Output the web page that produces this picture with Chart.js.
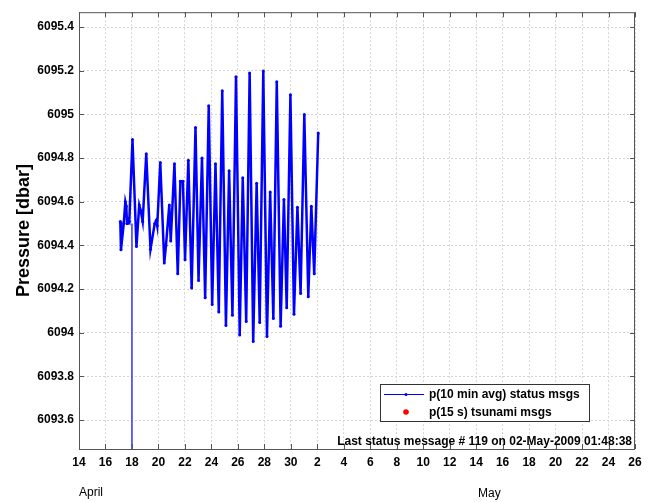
<!DOCTYPE html>
<html>
<head>
<meta charset="utf-8">
<script src="https://cdn.jsdelivr.net/npm/chart.js@4.4.0/dist/chart.umd.min.js"></script>
<style>
    body { margin: 0; background: #fff; }
</style>
</head>
<body>
<canvas id="myChart" width="651" height="502"></canvas>
<script>
// days counted from April 0 (so 32 = May 2)
const days = [17.12, 17.17, 17.38, 17.50, 17.57, 17.63, 17.70, 17.80,
    18.04, 18.34, 18.55, 18.66, 18.81, 19.08, 19.40, 19.72, 19.84, 19.91,
    20.14, 20.44, 20.57, 20.82, 20.93, 21.21, 21.46, 21.66, 21.85,
    22.01, 22.26, 22.51, 22.80, 23.03, 23.29, 23.53, 23.80,
    24.06, 24.31, 24.56, 24.82, 25.10, 25.34, 25.59, 25.86,
    26.14, 26.37, 26.63, 26.89, 27.16, 27.42, 27.65, 27.92,
    28.20, 28.44, 28.68, 28.94, 29.23, 29.48, 29.69, 29.97,
    30.24, 30.50, 30.74, 31.02, 31.32, 31.55, 31.77, 32.07];
const pressure = [6094.51, 6094.38, 6094.50, 6094.60, 6094.58, 6094.50, 6094.52, 6094.51,
    6094.885, 6094.395, 6094.585, 6094.56, 6094.51, 6094.82, 6094.383, 6094.50, 6094.515, 6094.49,
    6094.78, 6094.32, 6094.40, 6094.585, 6094.42, 6094.774, 6094.27, 6094.694, 6094.694,
    6094.335, 6094.79, 6094.205, 6094.94, 6094.24, 6094.80, 6094.16, 6095.04,
    6094.13, 6094.774, 6094.095, 6095.108, 6094.034, 6094.742, 6094.08, 6095.173,
    6093.99, 6094.71, 6094.052, 6095.19, 6093.96, 6094.685, 6094.047, 6095.199,
    6093.983, 6094.645, 6094.065, 6095.15, 6094.03, 6094.61, 6094.115, 6095.09,
    6094.085, 6094.575, 6094.18, 6095.00, 6094.165, 6094.58, 6094.27, 6094.915];

// bad reading on April 18 that drops off the bottom of the axes
const spikeDays = [18.0, 18.0];
const spikeValues = [6094.5, 6093.0];

// no tsunami messages in this period
const tsunamiDays = [];
const tsunamiValues = [];

const xTicks = [14, 16, 18, 20, 22, 24, 26, 28, 30, 32, 34, 36, 38, 40, 42, 44, 46, 48, 50, 52, 54, 56];
const xTickLabels = ['14', '16', '18', '20', '22', '24', '26', '28', '30', '2', '4', '6', '8', '10',
    '12', '14', '16', '18', '20', '22', '24', '26'];
const yTicks = [6093.6, 6093.8, 6094, 6094.2, 6094.4, 6094.6, 6094.8, 6095, 6095.2, 6095.4];
const yTickLabels = ['6093.6', '6093.8', '6094', '6094.2', '6094.4', '6094.6', '6094.8', '6095', '6095.2', '6095.4'];

const statusText = 'Last status message # 119 on 02-May-2009 01:48:38';
const yTitle = 'Pressure [dbar]';

const FONT = '"Liberation Sans", Arial, Helvetica, sans-serif';
Chart.defaults.font.family = FONT;

function toPoints(xs, ys) {
    return xs.map(function (v, i) { return { x: v, y: ys[i] }; });
}

const frame = {
    id: 'frame',
    beforeDraw: function (chart) {
        const ctx = chart.ctx;
        ctx.save();
        ctx.fillStyle = '#fff';
        ctx.fillRect(0, 0, chart.width, chart.height);
        ctx.restore();
    },
    afterDraw: function (chart) {
        const ctx = chart.ctx;
        const a = chart.chartArea;
        const xs = chart.scales.x;
        const ys = chart.scales.y;
        ctx.save();

        // axes box with inward ticks
        ctx.strokeStyle = '#555';
        ctx.lineWidth = 1;
        ctx.strokeRect(a.left + 0.5, a.top + 0.5, a.right - a.left - 1, a.bottom - a.top);
        ctx.beginPath();
        xTicks.forEach(function (v) {
            const px = Math.round(xs.getPixelForValue(v)) + 0.5;
            ctx.moveTo(px, a.bottom); ctx.lineTo(px, a.bottom - 5);
            ctx.moveTo(px, a.top); ctx.lineTo(px, a.top + 5);
        });
        yTicks.forEach(function (v) {
            const py = Math.round(ys.getPixelForValue(v)) + 0.5;
            ctx.moveTo(a.left, py); ctx.lineTo(a.left + 5, py);
            ctx.moveTo(a.right, py); ctx.lineTo(a.right - 5, py);
        });
        ctx.stroke();

        // y label
        ctx.fillStyle = '#000';
        ctx.font = 'bold 18px ' + FONT;
        ctx.textAlign = 'center';
        ctx.textBaseline = 'middle';
        ctx.translate(24, (a.top + a.bottom) / 2);
        ctx.rotate(-Math.PI / 2);
        ctx.fillText(yTitle, 0, 0);
        ctx.setTransform(1, 0, 0, 1, 0, 0);

        // month labels
        ctx.font = '12px ' + FONT;
        ctx.textAlign = 'left';
        ctx.fillText('April', 79, 493);
        ctx.fillText('May', 478, 494);

        // status text
        ctx.font = 'bold 12px ' + FONT;
        ctx.textAlign = 'right';
        ctx.fillText(statusText, a.right - 3, a.bottom - 7);

        // legend
        const ds = chart.data.datasets;
        ctx.fillStyle = '#fff';
        ctx.fillRect(380.5, 384.5, 209, 37);
        ctx.strokeStyle = '#333';
        ctx.strokeRect(380.5, 384.5, 209, 37);
        ctx.strokeStyle = ds[0].borderColor;
        ctx.lineWidth = 1;
        ctx.beginPath();
        ctx.moveTo(384, 394.5); ctx.lineTo(424, 394.5);
        ctx.stroke();
        ctx.fillStyle = ds[0].borderColor;
        ctx.beginPath(); ctx.arc(406, 394.5, 1.5, 0, Math.PI * 2); ctx.fill();
        ctx.fillStyle = ds[1].backgroundColor;
        ctx.beginPath(); ctx.arc(406, 412, 2.8, 0, Math.PI * 2); ctx.fill();
        ctx.fillStyle = '#000';
        ctx.textAlign = 'left';
        ctx.fillText(ds[0].label, 429, 395);
        ctx.fillText(ds[1].label, 429, 413);

        ctx.restore();
    }
};

const ctx = document.getElementById('myChart');

new Chart(ctx, {
    type: 'line',
    data: {
        datasets: [{
            label: 'p(10 min avg) status msgs',
            data: toPoints(days, pressure),
            borderColor: '#0000ff',
            backgroundColor: '#0000ff',
            borderWidth: 2.5,
            pointRadius: 1.5,
            pointBorderWidth: 0,
            tension: 0
        }, {
            label: 'p(15 s) tsunami msgs',
            data: toPoints(tsunamiDays, tsunamiValues),
            borderColor: '#ff0000',
            backgroundColor: '#ff0000',
            showLine: false,
            pointRadius: 3
        }, {
            label: 'spike',
            data: toPoints(spikeDays, spikeValues),
            borderColor: 'rgba(60, 60, 255, 0.8)',
            borderWidth: 1,
            pointRadius: 0
        }]
    },
    options: {
        responsive: false,
        animation: false,
        layout: { padding: { top: 9, right: 16, left: 0, bottom: 0 } },
        plugins: {
            legend: { display: false },
            tooltip: { enabled: false }
        },
        scales: {
            x: {
                type: 'linear',
                min: 14,
                max: 56,
                afterBuildTicks: function (s) { s.ticks = xTicks.map(function (v) { return { value: v }; }); },
                afterFit: function (s) { s.height = 53; s.paddingLeft = 0; s.paddingRight = 0; },
                grid: { color: '#d4d4d4', drawTicks: false },
                border: { display: false, dash: [2, 2] },
                ticks: {
                    autoSkip: false,
                    maxRotation: 0,
                    padding: 6,
                    color: '#000',
                    font: { size: 12, weight: 'bold' },
                    callback: function (v, i) { return xTickLabels[i]; }
                }
            },
            y: {
                type: 'linear',
                min: 6093.468,
                max: 6095.468,
                afterBuildTicks: function (s) { s.ticks = yTicks.map(function (v) { return { value: v }; }); },
                afterFit: function (s) { s.width = 79; },
                grid: { color: '#d4d4d4', drawTicks: false },
                border: { display: false, dash: [2, 2] },
                ticks: {
                    padding: 5,
                    color: '#000',
                    font: { size: 12, weight: 'bold' },
                    callback: function (v, i) { return yTickLabels[i]; }
                }
            }
        }
    },
    plugins: [frame]
});
</script>
</body>
</html>
